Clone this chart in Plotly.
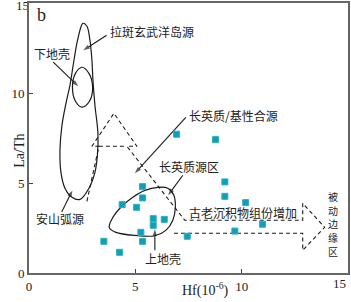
import plotly.graph_objects as go

# Sample data (Hf in 10^-6, La/Th)
hf = [6.94, 8.77, 5.34, 5.34, 4.38, 5.06, 9.21, 9.21, 10.19, 5.84,
      6.36, 5.84, 5.26, 10.98, 9.68, 7.44, 3.52, 5.34, 4.26]
la_th = [7.71, 7.41, 4.80, 4.17, 3.80, 3.65, 5.06, 4.26, 3.91, 3.02,
         2.98, 2.65, 2.26, 2.71, 2.33, 2.04, 1.76, 1.76, 1.15]

# Field outlines (data units)
arc_x = [2.536, 2.724, 2.865, 2.959, 3.006, 3.100, 3.241, 3.217, 3.100, 2.818,
         2.395, 2.020, 1.691, 1.503, 1.456, 1.550, 1.738, 1.926, 2.114, 2.302, 2.536]
arc_y = [13.87, 13.71, 12.93, 11.82, 10.71, 9.32, 7.76, 6.54, 5.59, 4.71,
         4.09, 4.21, 4.71, 5.59, 6.82, 8.21, 9.43, 10.43, 11.82, 13.04, 13.87]

lc_x = [2.489, 2.818, 2.992, 2.842, 2.489, 2.184, 2.043, 2.184, 2.489]
lc_y = [11.43, 11.09, 10.32, 9.54, 9.21, 9.54, 10.32, 11.09, 11.43]

fel_x = [3.772, 3.945, 4.368, 4.885, 5.449, 6.059, 6.529, 6.811, 6.881, 6.764,
         6.435, 5.918, 4.979, 4.086, 3.772]
fel_y = [2.52, 3.09, 3.71, 4.21, 4.59, 4.76, 4.71, 4.32, 3.65, 2.93,
         2.37, 2.07, 2.09, 2.26, 2.52]

# Dashed trend arrows
dash_x = [2.724, 3.288, 2.959, 3.992, 5.073, 4.603, 7.327, 12.870, 12.870, 13.903,
          12.870, 12.870, 6.717, None, 3.288, 4.603]
dash_y = [3.98, 7.04, 7.04, 8.87, 7.04, 7.04, 2.93, 2.93, 3.87, 2.54,
          1.26, 2.21, 2.21, None, 7.04, 7.04]

# Labels
labels = ["拉斑玄武洋岛源", "下地壳", "长英质/基性合源", "长英质源区", "安山弧源",
          "上地壳", "古老沉积物组份增加"]
label_x = [5.80, 1.08, 9.63, 7.52, 1.46, 6.29, 10.05]
label_y = [13.43, 12.21, 8.76, 5.93, 3.04, 0.82, 3.37]

# vertical label (one character per line)
vlabel = "被动边缘区"
vlabel_x = 14.28
vlabel_y = [4.25, 3.49, 2.73, 1.97, 1.21]

# Leader arrows: tail -> head
arr_tail_x = [3.649, 1.141, 7.374, 7.233, 1.536, 5.918]
arr_tail_y = [13.21, 11.72, 8.65, 5.43, 3.39, 1.26]
arr_head_x = [2.550, 2.316, 4.979, 6.543, 2.043, 5.918]
arr_head_y = [12.37, 10.37, 5.54, 4.32, 4.59, 2.43]

x_ticks = [0, 5, 10, 15]
y_ticks = [0, 5, 10, 15]
x_title = "Hf(10<sup>-6</sup>)"
y_title = "La/Th"

fig = go.Figure()
for xs, ys in [(arc_x, arc_y), (lc_x, lc_y), (fel_x, fel_y)]:
    fig.add_trace(go.Scatter(x=xs, y=ys, mode="lines",
                             line=dict(color="#1a1a1a", width=1.2, shape="spline", smoothing=1.0),
                             hoverinfo="skip", showlegend=False))
fig.add_trace(go.Scatter(x=dash_x, y=dash_y, mode="lines",
                         line=dict(color="#1a1a1a", width=1.1, dash="4px,3px"),
                         hoverinfo="skip", showlegend=False))
for tx, ty, hx, hy in zip(arr_tail_x, arr_tail_y, arr_head_x, arr_head_y):
    fig.add_trace(go.Scatter(x=[tx, hx], y=[ty, hy], mode="lines+markers",
                             line=dict(color="#1a1a1a", width=1.1),
                             marker=dict(symbol="arrow", angleref="previous", size=[0, 7],
                                         color="#1a1a1a", line=dict(width=0)),
                             hoverinfo="skip", showlegend=False))
fig.add_trace(go.Scatter(x=hf, y=la_th, mode="markers",
                         marker=dict(symbol="square", size=6, color="#0f9cc6",
                                     line=dict(color="#2db5a6", width=1)),
                         showlegend=False))
# top "15" tick label of the y axis, drawn as unclipped text next to the corner
fig.add_trace(go.Scatter(x=[0], y=[y_ticks[-1] - 0.2], mode="text", text=[str(y_ticks[-1])],
                         textposition="middle left", cliponaxis=False,
                         textfont=dict(family="Liberation Serif", size=13, color="#222"),
                         hoverinfo="skip", showlegend=False))

cjk = "Noto Sans CJK SC"
for t, x, y in zip(labels, label_x, label_y):
    fig.add_annotation(x=x, y=y, xref="x", yref="y", text=t, showarrow=False,
                       font=dict(family=cjk, size=12, color="#222"))
for ch, y in zip(vlabel, vlabel_y):
    fig.add_annotation(x=vlabel_x, y=y, xref="x", yref="y", text=ch, showarrow=False,
                       font=dict(family=cjk, size=10, color="#222"))
fig.add_annotation(x=0.611, y=14.32, xref="x", yref="y", text="b", showarrow=False,
                   font=dict(family="Liberation Serif", size=18, color="#222"))

# right "15" tick label of the x axis kept inside the page
fig.add_annotation(x=x_ticks[-1], y=0, xref="x", yref="y", yshift=-10, xanchor="right",
                   yanchor="middle", text=str(x_ticks[-1]), showarrow=False,
                   font=dict(family="Liberation Serif", size=13, color="#222"))

# axis titles
fig.add_annotation(x=0.552, y=-0.103, xref="paper", yref="paper", text=x_title,
                   showarrow=False, font=dict(family="Liberation Serif", size=14, color="#222"))
fig.add_annotation(x=-0.06, y=0.454, xref="paper", yref="paper", text=y_title, textangle=-90,
                   showarrow=False, font=dict(family="Liberation Serif", size=14, color="#222"))

fig.update_layout(
    width=351, height=302,
    margin=dict(l=29, r=3, t=3, b=29),
    paper_bgcolor="white", plot_bgcolor="white",
    font=dict(family="Liberation Serif", size=13, color="#222"),
    xaxis=dict(range=[0, 15], tickvals=x_ticks[:-1], ticks="inside", ticklen=4, tickcolor="#444",
               showgrid=False, zeroline=False, showline=True, linecolor="#666", linewidth=2,
               mirror=True, automargin=False, ticklabelstandoff=0),
    yaxis=dict(range=[0, 15], tickvals=y_ticks[:-1], ticks="inside", ticklen=4, tickcolor="#444",
               showgrid=False, zeroline=False, showline=True, linecolor="#666", linewidth=2,
               mirror=True, automargin=False, ticklabelstandoff=0),
)
fig.write_html("out.html", config={"displayModeBar": False},
               post_script="document.body.style.margin='0';document.body.style.overflow='hidden';")
